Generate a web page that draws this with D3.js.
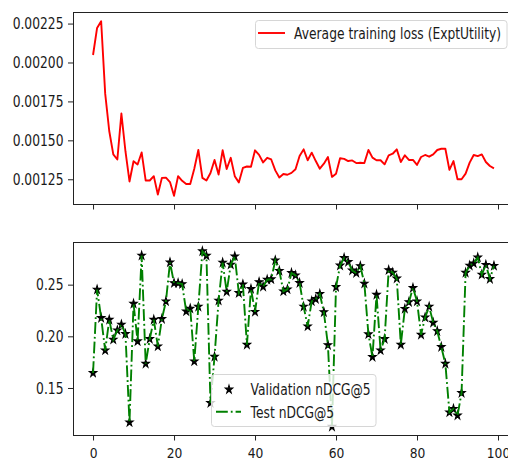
<!DOCTYPE html>
<html><head><meta charset="utf-8">
<script src="https://cdn.jsdelivr.net/npm/d3@7"></script>
<style>
body{margin:0;background:#fff;overflow:hidden}
text{font-family:"DejaVu Sans",sans-serif;fill:#1a1a1a}
</style>
</head><body>
<svg id="c" width="508" height="462"></svg>
<script>
// ---------- data ----------
const lossValues = [
0.002048,0.002222,0.002265,0.0018,0.00156,0.00141,0.001377,0.001672,0.00143,0.001236,
0.001366,0.001345,0.001422,0.001242,0.001242,0.00127,0.001152,0.001259,0.00126,0.001232,
0.001144,0.00127,0.00124,0.00122,0.00122,0.001318,0.001438,0.001259,0.001242,0.00129,
0.001374,0.00128,0.001436,0.001316,0.001388,0.00127,0.00123,0.001323,0.001332,0.00133,
0.001436,0.001407,0.001358,0.001388,0.001377,0.001307,0.001262,0.001284,0.001279,0.001291,
0.001314,0.001399,0.001442,0.001372,0.001421,0.001367,0.001318,0.00135,0.001393,0.001265,
0.001286,0.001385,0.001381,0.001367,0.001371,0.001354,0.001356,0.001354,0.001438,0.001389,
0.001372,0.001372,0.001346,0.001404,0.001414,0.001442,0.001361,0.001404,0.001374,0.001374,
0.001342,0.001393,0.001406,0.001395,0.00141,0.001438,0.001446,0.001446,0.00131,0.001367,
0.00125,0.00125,0.001286,0.001357,0.001406,0.001399,0.00141,0.001361,0.001335,0.00132];

const validationNdcg = [
0.1645,0.2452,0.2178,0.1864,0.2161,0.1968,0.2058,0.2113,0.2023,0.1168,
0.2316,0.1952,0.2781,0.1735,0.1974,0.2161,0.1903,0.2168,0.2339,0.2716,
0.2515,0.2515,0.2505,0.2242,0.2268,0.1758,0.2287,0.2823,0.2780,0.1355,
0.1803,0.2346,0.2713,0.2432,0.2694,0.2774,0.2419,0.2503,0.1919,0.2458,
0.2237,0.2525,0.2480,0.2548,0.2552,0.2735,0.2634,0.2435,0.2455,0.2613,
0.2590,0.2516,0.2287,0.2097,0.2339,0.2361,0.2410,0.2234,0.1915,0.1125,
0.2477,0.2685,0.2758,0.2720,0.2637,0.2613,0.2680,0.2510,0.2020,0.1800,
0.2403,0.1864,0.1974,0.2641,0.2617,0.2560,0.1919,0.2266,0.2331,0.2468,
0.2339,0.2016,0.2183,0.2287,0.2132,0.2050,0.1897,0.1735,0.1264,0.1298,
0.1234,0.1452,0.2616,0.2684,0.2706,0.2763,0.2597,0.2692,0.2555,0.2682];

const testNdcg = [
0.1645,0.2452,0.2178,0.1864,0.2161,0.1968,0.2058,0.2113,0.2023,0.1168,
0.2316,0.1952,0.2781,0.1735,0.1974,0.2161,0.1903,0.2168,0.2339,0.2716,
0.2515,0.2515,0.2505,0.2242,0.2268,0.1758,0.2287,0.2823,0.2780,0.1355,
0.1803,0.2346,0.2713,0.2432,0.2694,0.2774,0.2419,0.2503,0.1919,0.2458,
0.2237,0.2525,0.2480,0.2548,0.2552,0.2735,0.2634,0.2435,0.2455,0.2613,
0.2590,0.2516,0.2287,0.2097,0.2339,0.2361,0.2410,0.2234,0.1915,0.1125,
0.2477,0.2685,0.2758,0.2720,0.2637,0.2613,0.2680,0.2510,0.2020,0.1800,
0.2403,0.1864,0.1974,0.2641,0.2617,0.2560,0.1919,0.2266,0.2331,0.2468,
0.2339,0.2016,0.2183,0.2287,0.2132,0.2050,0.1897,0.1735,0.1264,0.1298,
0.1234,0.1452,0.2616,0.2684,0.2706,0.2763,0.2597,0.2692,0.2555,0.2682];

const xTicks = [0, 20, 40, 60, 80, 100];
const xTickLabels = ["0", "20", "40", "60", "80", "100"];
const lossTicks = [0.00125, 0.0015, 0.00175, 0.002, 0.00225];
const lossTickLabels = ["0.00125", "0.00150", "0.00175", "0.00200", "0.00225"];
const ndcgTicks = [0.15, 0.20, 0.25];
const ndcgTickLabels = ["0.15", "0.20", "0.25"];
const lossLabel = "Average training loss (ExptUtility)";
const validationLabel = "Validation nDCG@5";
const testLabel = "Test nDCG@5";

// ---------- layout ----------
const SY = 1.35;          // vertical stretch of the reference glyphs
const SYX = 1.2;          // a little less for the bottom labels so they fit
const FS = 12.3;
const L = 73, R = 514;
const T1 = 12.5, B1 = 204.5;
const T2 = 242.5, B2 = 435.5;

const svg = d3.select("#c");
const n = lossValues.length;
const pad = (lo, hi) => { const d = hi - lo; return [lo - 0.05 * d, hi + 0.05 * d]; };

const x = d3.scaleLinear().domain(pad(0, n - 1)).range([L, R]);
const y1 = d3.scaleLinear().domain(pad(d3.min(lossValues), d3.max(lossValues))).range([B1, T1]);
const allN = validationNdcg.concat(testNdcg);
const y2 = d3.scaleLinear().domain(pad(d3.min(allN), d3.max(allN))).range([B2, T2]);

const defs = svg.append("defs");
defs.append("clipPath").attr("id", "c1").append("rect").attr("x", L).attr("y", T1).attr("width", R - L).attr("height", B1 - T1);
defs.append("clipPath").attr("id", "c2").append("rect").attr("x", L).attr("y", T2).attr("width", R - L).attr("height", B2 - T2);

function styleAxis(g) {
  g.select(".domain").remove();
  g.selectAll(".tick line").attr("stroke", "#222").attr("stroke-width", 1);
  g.selectAll(".tick text").attr("font-size", FS).attr("fill", "#1a1a1a");
}

// ---------- top panel ----------
const gTop = svg.append("g");
gTop.append("path")
  .datum(lossValues)
  .attr("clip-path", "url(#c1)")
  .attr("fill", "none").attr("stroke", "#f00").attr("stroke-width", 1.9)
  .attr("stroke-linejoin", "round")
  .attr("d", d3.line().x((d, i) => x(i)).y(d => y1(d)));

const axTopX = gTop.append("g").attr("transform", `translate(0,${B1})`)
  .call(d3.axisBottom(x).tickValues(xTicks).tickSize(5).tickSizeOuter(0).tickFormat(""));
styleAxis(axTopX);

const axTopY = gTop.append("g").attr("transform", `translate(${L},0)`)
  .call(d3.axisLeft(y1).tickValues(lossTicks).tickSize(5).tickSizeOuter(0)
    .tickFormat((d, i) => lossTickLabels[i]));
styleAxis(axTopY);
axTopY.selectAll(".tick text").attr("x", 0)
  .attr("transform", `translate(-9.5,0) scale(1,${SY})`);

gTop.append("rect").attr("x", L + 0.5).attr("y", T1).attr("width", R - L).attr("height", B1 - T1)
  .attr("fill", "none").attr("stroke", "#222").attr("stroke-width", 1);

// legend top
const lg1 = gTop.append("g");
lg1.append("rect").attr("x", 255.5).attr("y", 20.5).attr("width", 251.5).attr("height", 28)
  .attr("rx", 3).attr("fill", "#fff").attr("fill-opacity", 0.8)
  .attr("stroke", "#d6d6d6").attr("stroke-width", 1);
lg1.append("line").attr("x1", 258).attr("x2", 285).attr("y1", 33).attr("y2", 33)
  .attr("stroke", "#f00").attr("stroke-width", 1.9);
lg1.append("text").attr("transform", `translate(294,39.3) scale(1,${SY})`)
  .attr("font-size", FS).text(lossLabel);

// ---------- bottom panel ----------
const gBot = svg.append("g");
const star = d3.symbol().type(d3.symbolStar).size(17);

gBot.append("g").attr("clip-path", "url(#c2)")
  .selectAll("path").data(validationNdcg).join("path")
  .attr("d", star)
  .attr("transform", (d, i) => `translate(${x(i)},${y2(d)}) scale(1,1.12)`)
  .attr("fill", "#000").attr("stroke", "#000").attr("stroke-width", 1);

gBot.append("path")
  .datum(testNdcg)
  .attr("clip-path", "url(#c2)")
  .attr("fill", "none").attr("stroke", "#008000").attr("stroke-width", 1.9)
  .attr("stroke-dasharray", "11.8,3,1.8,3")
  .attr("d", d3.line().x((d, i) => x(i)).y(d => y2(d)));

const axBotX = gBot.append("g").attr("transform", `translate(0,${B2})`)
  .call(d3.axisBottom(x).tickValues(xTicks).tickSize(5).tickSizeOuter(0)
    .tickFormat((d, i) => xTickLabels[i]));
styleAxis(axBotX);
axBotX.selectAll(".tick text").attr("y", 0).attr("dy", null)
  .attr("transform", `translate(0,22.5) scale(1,${SYX})`);

const axBotY = gBot.append("g").attr("transform", `translate(${L},0)`)
  .call(d3.axisLeft(y2).tickValues(ndcgTicks).tickSize(5).tickSizeOuter(0)
    .tickFormat((d, i) => ndcgTickLabels[i]));
styleAxis(axBotY);
axBotY.selectAll(".tick text").attr("x", 0)
  .attr("transform", `translate(-9.5,0) scale(1,${SY})`);

gBot.append("rect").attr("x", L + 0.5).attr("y", T2).attr("width", R - L).attr("height", B2 - T2)
  .attr("fill", "none").attr("stroke", "#222").attr("stroke-width", 1);

// legend bottom
const lg2 = gBot.append("g");
lg2.append("rect").attr("x", 211.5).attr("y", 374.5).attr("width", 164.5).attr("height", 52)
  .attr("rx", 3).attr("fill", "#fff").attr("fill-opacity", 0.8)
  .attr("stroke", "#d6d6d6").attr("stroke-width", 1);
lg2.append("path").attr("d", star)
  .attr("transform", `translate(229,389.5) scale(1,1.12)`)
  .attr("fill", "#000").attr("stroke", "#000").attr("stroke-width", 1);
lg2.append("text").attr("transform", `translate(250.5,395) scale(1,${SY})`)
  .attr("font-size", FS).text(validationLabel);
lg2.append("line").attr("x1", 216).attr("x2", 241).attr("y1", 411.7).attr("y2", 411.7)
  .attr("stroke", "#008000").attr("stroke-width", 1.9)
  .attr("stroke-dasharray", "11.8,3,1.8,3");
lg2.append("text").attr("transform", `translate(250.5,418.3) scale(1,${SY})`)
  .attr("font-size", FS).text(testLabel);
</script>
</body></html>
